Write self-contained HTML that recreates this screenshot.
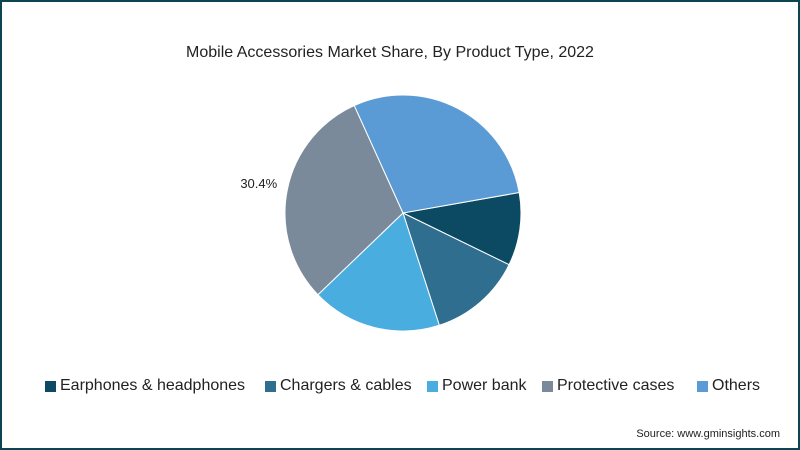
<!DOCTYPE html>
<html><head><meta charset="utf-8"><style>
body{margin:0;width:800px;height:450px;overflow:hidden;background:#fff;font-family:"Liberation Sans",sans-serif}
#frame{position:absolute;left:0;top:0;width:796px;height:446px;border:2px solid #0d4454}
.t{position:absolute;white-space:nowrap;color:#222}
.sq{position:absolute;width:11px;height:11px}
</style></head><body>
<div id="frame"></div>
<div class="t" style="left:0;width:780px;text-align:center;top:44px;font-size:16px">Mobile Accessories Market Share, By Product Type, 2022</div>
<svg id="pie" width="800" height="450" style="position:absolute;left:0;top:0"></svg>
<div id="legend"></div>
<div class="t" style="right:20px;top:428px;font-size:11px">Source: www.gminsights.com</div>
<script>
const categories=["Earphones & headphones","Chargers & cables","Power bank","Protective cases","Others"];
const values=[10,12.8,17.8,30.4,29];
const colors=["#0b4a62","#2f6e8f","#4aade0","#7a8a9a","#5b9bd5"];
const labelShown=[false,false,false,true,false];
const svg=document.getElementById('pie');
const NS="http://www.w3.org/2000/svg";
const cx=403,cy=213,r=118,start=-10;
const total=values.reduce((a,b)=>a+b,0);
let a=start;
function pt(deg,rad){const t=deg*Math.PI/180;return [cx+rad*Math.cos(t),cy+rad*Math.sin(t)];}
values.forEach((v,i)=>{
 const sweep=v/total*360;const [x1,y1]=pt(a,r);const [x2,y2]=pt(a+sweep,r);
 const p=document.createElementNS(NS,'path');
 p.setAttribute('d',`M${cx},${cy}L${x1},${y1}A${r},${r} 0 ${sweep>180?1:0} 1 ${x2},${y2}Z`);
 p.setAttribute('fill',colors[i]);p.setAttribute('stroke','#fff');p.setAttribute('stroke-width','1');
 
 
 svg.appendChild(p);
 if(labelShown[i]){const [lx,ly]=pt(a+sweep/2,r+35);const tx=document.createElementNS(NS,'text');
  tx.setAttribute('x',lx+6);tx.setAttribute('y',ly+4);tx.setAttribute('text-anchor','middle');tx.setAttribute('font-size','13');tx.setAttribute('fill','#222');
  tx.textContent=v.toFixed(1)+'%';
  
  
  svg.appendChild(tx);}
 a+=sweep;
});
const lx=[45,265,427,542,697];
const lg=document.getElementById('legend');
categories.forEach((c,i)=>{
 const s=document.createElement('div');s.className='sq';s.style.left=lx[i]+'px';s.style.top='381px';s.style.background=colors[i];
 
 
 lg.appendChild(s);
 const t=document.createElement('div');t.className='t';t.style.left=(lx[i]+15)+'px';t.style.top='377px';t.style.fontSize='16px';t.textContent=c;
 
 
 lg.appendChild(t);
});
</script>
</body></html>
